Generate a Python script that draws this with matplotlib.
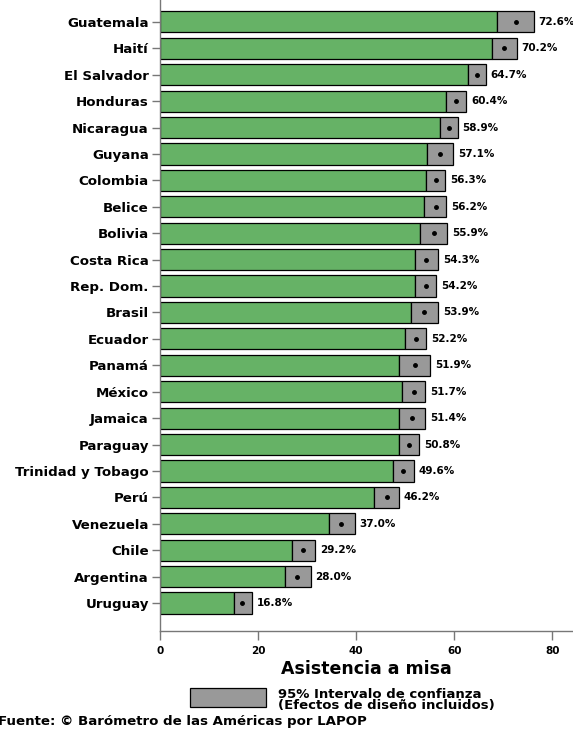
import numpy as np
import matplotlib
matplotlib.use("Agg")
import matplotlib.pyplot as plt
from matplotlib.patches import Rectangle

plt.rcParams['font.family'] = ['DejaVu Sans']
plt.rcParams['font.weight'] = 'bold'

paises = ["Guatemala", "Haití", "El Salvador", "Honduras", "Nicaragua", "Guyana",
          "Colombia", "Belice", "Bolivia", "Costa Rica", "Rep. Dom.", "Brasil",
          "Ecuador", "Panamá", "México", "Jamaica", "Paraguay", "Trinidad y Tobago",
          "Perú", "Venezuela", "Chile", "Argentina", "Uruguay"]
media = [72.6, 70.2, 64.7, 60.4, 58.9, 57.1, 56.3, 56.2, 55.9, 54.3, 54.2, 53.9,
         52.2, 51.9, 51.7, 51.4, 50.8, 49.6, 46.2, 37.0, 29.2, 28.0, 16.8]
# limites del intervalo de confianza
ic_inf = [68.7, 67.7, 62.8, 58.3, 57.1, 54.4, 54.2, 53.9, 53.1, 51.9, 52.0, 51.1,
          50.0, 48.8, 49.3, 48.8, 48.8, 47.6, 43.7, 34.4, 26.9, 25.4, 15.0]
ic_sup = [76.2, 72.7, 66.4, 62.4, 60.7, 59.7, 58.2, 58.4, 58.6, 56.7, 56.3, 56.7,
          54.3, 55.1, 54.1, 54.0, 52.8, 51.7, 48.7, 39.7, 31.7, 30.7, 18.7]
xticks = [0, 20, 40, 60, 80]

verde = '#66b266'
gris = '#999999'

fig = plt.figure(figsize=(5.73, 7.34), dpi=100)
ax = fig.add_axes([0.2792, 0.1403, 0.7190, 0.8597])

y = np.arange(len(paises))
lo = np.array(ic_inf)
hi = np.array(ic_sup)
ax.barh(y, lo, height=0.8, color=verde, edgecolor='black', linewidth=0.9, zorder=2)
ax.barh(y, hi - lo, left=lo, height=0.8, color=gris, edgecolor='black', linewidth=0.9, zorder=2)
ax.plot(media, y, 'o', color='black', markersize=2.5, zorder=3)
for yi, h, m in zip(y, hi, media):
    ax.text(h + 1.0, yi, f"{m:.1f}%", va='center', ha='left', fontsize=7.5, fontweight='bold')

ax.set_xlim(0, 84)
ax.set_ylim(23.06, -0.83)
ax.set_yticks(y)
ax.set_yticklabels(paises, fontsize=9.6, fontweight='bold')
ax.set_xticks(xticks)
ax.set_xticklabels([str(t) for t in xticks], fontsize=7.5, fontweight='bold')
ax.tick_params(axis='y', color='#777777', length=6, width=1, pad=2)
ax.tick_params(axis='x', color='#777777', length=6.5, width=1, pad=4)
for s in ['top', 'right']:
    ax.spines[s].set_visible(False)
for s in ['left', 'bottom']:
    ax.spines[s].set_color('#777777')
    ax.spines[s].set_linewidth(1)
ax.set_xlabel("Asistencia a misa", fontsize=12.5, fontweight='bold', labelpad=3)

# leyenda
fig.patches.append(Rectangle((190 / 573, 1 - 707 / 734), 76 / 573, 19 / 734,
                             transform=fig.transFigure, facecolor=gris,
                             edgecolor='black', linewidth=0.9))
fig.text(278 / 573, 1 - 694 / 734, "95% Intervalo de confianza",
         fontsize=9.5, fontweight='bold', va='center', ha='left')
fig.text(278 / 573, 1 - 706 / 734, "(Efectos de diseño incluidos)",
         fontsize=9.5, fontweight='bold', va='center', ha='left')
fig.text(-2 / 573, 1 - 721 / 734, "Fuente: © Barómetro de las Américas por LAPOP",
         fontsize=9.6, fontweight='bold', va='center', ha='left')

fig.savefig("out.png", dpi=100)
